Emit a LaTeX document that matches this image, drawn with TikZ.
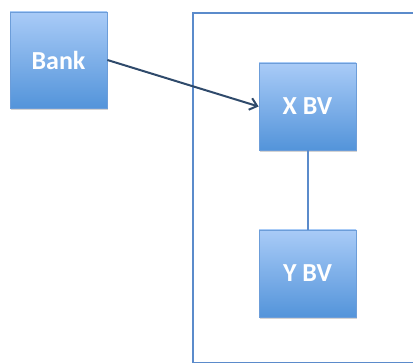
\documentclass[tikz,border=0pt]{standalone}
\usepackage{fontspec}
\setmainfont{Carlito}
\usepackage{tikz}
\usetikzlibrary{positioning,arrows.meta,shadows}

\definecolor{boxtop}{HTML}{A9CBF7}
\definecolor{boxbottom}{HTML}{5394DA}
\definecolor{boxedge}{HTML}{6C9DD9}
\definecolor{framecol}{HTML}{5B8BCB}
\definecolor{arrowcol}{HTML}{2F4A6B}

\tikzset{
    unitbox/.style={draw=boxedge, line width=0.8pt, top color=boxtop, bottom color=boxbottom,
        minimum width=97pt, minimum height=87pt, inner sep=0pt,
        text=white, font=\fontsize{26}{30}\selectfont\bfseries,
        drop shadow={shadow xshift=1pt, shadow yshift=-2pt, opacity=0.35}},
}

\begin{document}
\begin{tikzpicture}[x=1pt, y=-1pt]
            \useasboundingbox (0,0) rectangle (413,363);

            \draw[framecol, line width=2pt] (193,13) rectangle (413.5,363.5);

            \node[unitbox, minimum height=96pt] (bank) at (58.5,60) {Bank};
            \node[unitbox] (xbv) at (307.5,106.5) {X BV};
            \node[unitbox] (ybv) at (307.5,273.5) {Y BV};

            \draw[arrowcol, line width=2pt, -{Straight Barb[length=7pt,width=12pt]}] (bank.east) -- (xbv.west);
            \draw[framecol, line width=2pt] (xbv.south) -- (ybv.north);

        \end{tikzpicture}
\end{document}
